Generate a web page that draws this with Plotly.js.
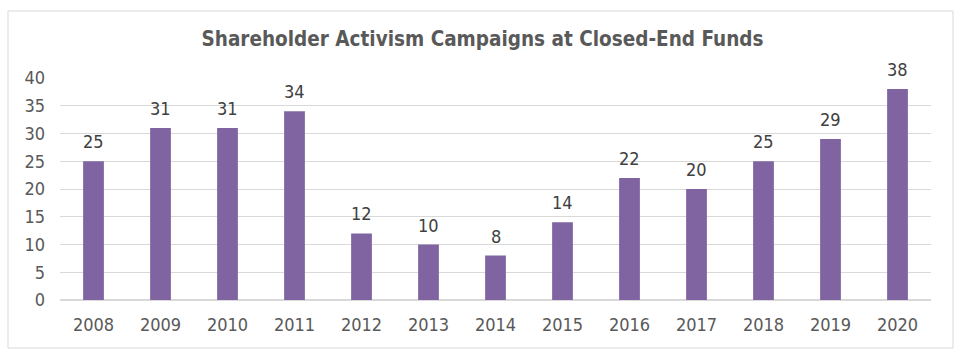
<!DOCTYPE html>
<html><head><meta charset="utf-8">
<script src="https://cdn.plot.ly/plotly-3.0.1.min.js"></script>
<style>html,body{margin:0;padding:0;background:#fff}#c{width:965px;height:361px}</style>
</head><body><div id="c"></div>
<script>
const years = ["2008","2009","2010","2011","2012","2013","2014","2015","2016","2017","2018","2019","2020"];
const campaigns = [25,31,31,34,12,10,8,14,22,20,25,29,38];
const yTicks = [0,5,10,15,20,25,30,35,40];
const FONT = '"DejaVu Sans Condensed", "DejaVu Sans", sans-serif';
const trace = {
  type:'bar', x:years, y:campaigns,
  marker:{color:'#8064A2', line:{color:'#8064A2',width:0}},
  width:0.31,
  hoverinfo:'none'
};
const labels = years.map((yr,i)=>({
  x:i, y:campaigns[i], xref:'x', yref:'y', text:String(campaigns[i]), showarrow:false,
  yanchor:'bottom', yshift:7, font:{family:FONT,size:18,color:'#404040'}
}));
const layout = {
  width:965, height:361,
  margin:{l:60,r:34,t:78,b:61},
  paper_bgcolor:'#fff', plot_bgcolor:'#fff',
  showlegend:false,
  title:{text:'<b>Shareholder Activism Campaigns at Closed-End Funds</b>', x:0.5, xanchor:'center', y:0.892, yanchor:'middle',
    font:{family:FONT,size:20.5,color:'#595959'}},
  font:{family:FONT,size:18,color:'#595959'},
  xaxis:{type:'category', range:[-0.5,12.5], showgrid:false, zeroline:false, showline:false, ticks:'', ticklabelstandoff:12,
    tickfont:{family:FONT,size:18,color:'#595959'}},
  yaxis:{range:[0,40], tickvals:yTicks, showgrid:true, gridcolor:'#d9d9d9', gridwidth:1,
    zeroline:true, zerolinecolor:'#d9d9d9', zerolinewidth:1.5, showline:false, ticks:'', ticklabelstandoff:14,
    tickfont:{family:FONT,size:18,color:'#595959'}},
  bargap:0.69,
  annotations:labels,
  shapes:[{type:'rect', xref:'paper', yref:'paper', x0:(8-60)/871, x1:(953-60)/871, y0:(300-348)/222, y1:(300-11)/222,
    line:{color:'#d9d9d9',width:1}, fillcolor:'rgba(0,0,0,0)', layer:'below'}]
};
Plotly.newPlot('c',[trace],layout,{displayModeBar:false,staticPlot:true});
</script></body></html>
